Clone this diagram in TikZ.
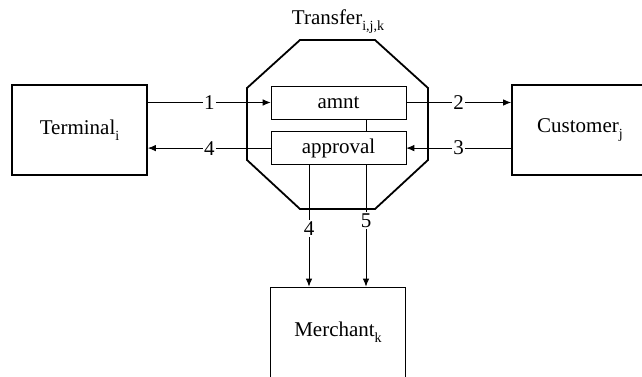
\documentclass[tikz,border=0pt]{standalone}
\usepackage{fontspec}
\setmainfont{Liberation Serif}
\usetikzlibrary{positioning}
\usetikzlibrary{arrows.meta}
\newcommand{\idx}[1]{\raisebox{-6pt}{\fontsize{14}{14}\selectfont #1}}

\begin{document}
\begin{tikzpicture}[
x=1pt, y=-1pt,
node distance = 12pt,
>={Latex[length=8pt,width=6.5pt]},
font=\fontsize{21}{24}\selectfont,
party/.style={rectangle, draw, line width=1.8pt, minimum width=135pt, minimum height=90pt, inner sep=0pt},
field/.style={rectangle, draw, line width=0.6pt, minimum width=135pt, minimum height=33pt, inner sep=0pt},
lbl/.style={fill=white, inner sep=1.5pt},
flow/.style={line width=0.8pt}]
\useasboundingbox (0,0) rectangle (642,377);
\clip (0,0) rectangle (642,377);
% the transfer octagon
\draw [line width=1.8pt] (300,40) -- (375,40) -- (428,88) -- (428,160)
  -- (375,209) -- (300,209) -- (247,160) -- (247,88) -- cycle;
\node (title) at (338,22) {Transfer\idx{i,j,k}};
\node [field] (amnt) at (338.5,102.5) {amnt};
\node [field] (approval) [below=of amnt] {approval};
\node [party] (terminal) at (79.5,130) {Terminal\idx{i}};
\node [party, minimum width=136pt] (customer) at (580,130) {Customer\idx{j}};
\node [party] (merchant) at (338,332.5) {Merchant\idx{k}};
\draw [flow] ([xshift=27.5pt]amnt.south) -- ([xshift=27.5pt]approval.north);
\draw [flow,->] (terminal.east |- amnt.west) -- node[lbl] {1} (amnt.west);
\draw [flow,->] (amnt.east) -- node[lbl] {2} (customer.west |- amnt.east);
\draw [flow,->] (customer.west |- approval.east) -- node[lbl] {3} (approval.east);
\draw [flow,->] (approval.west) -- node[lbl] {4} (terminal.east |- approval.west);
\draw [flow,->] ([xshift=-29.5pt]approval.south) -- node[lbl,pos=0.52] {4} ([xshift=-29pt]merchant.north);
\draw [flow,->] ([xshift=27.5pt]approval.south) -- node[lbl,pos=0.46] {5} ([xshift=28pt]merchant.north);
\end{tikzpicture}
\end{document}
